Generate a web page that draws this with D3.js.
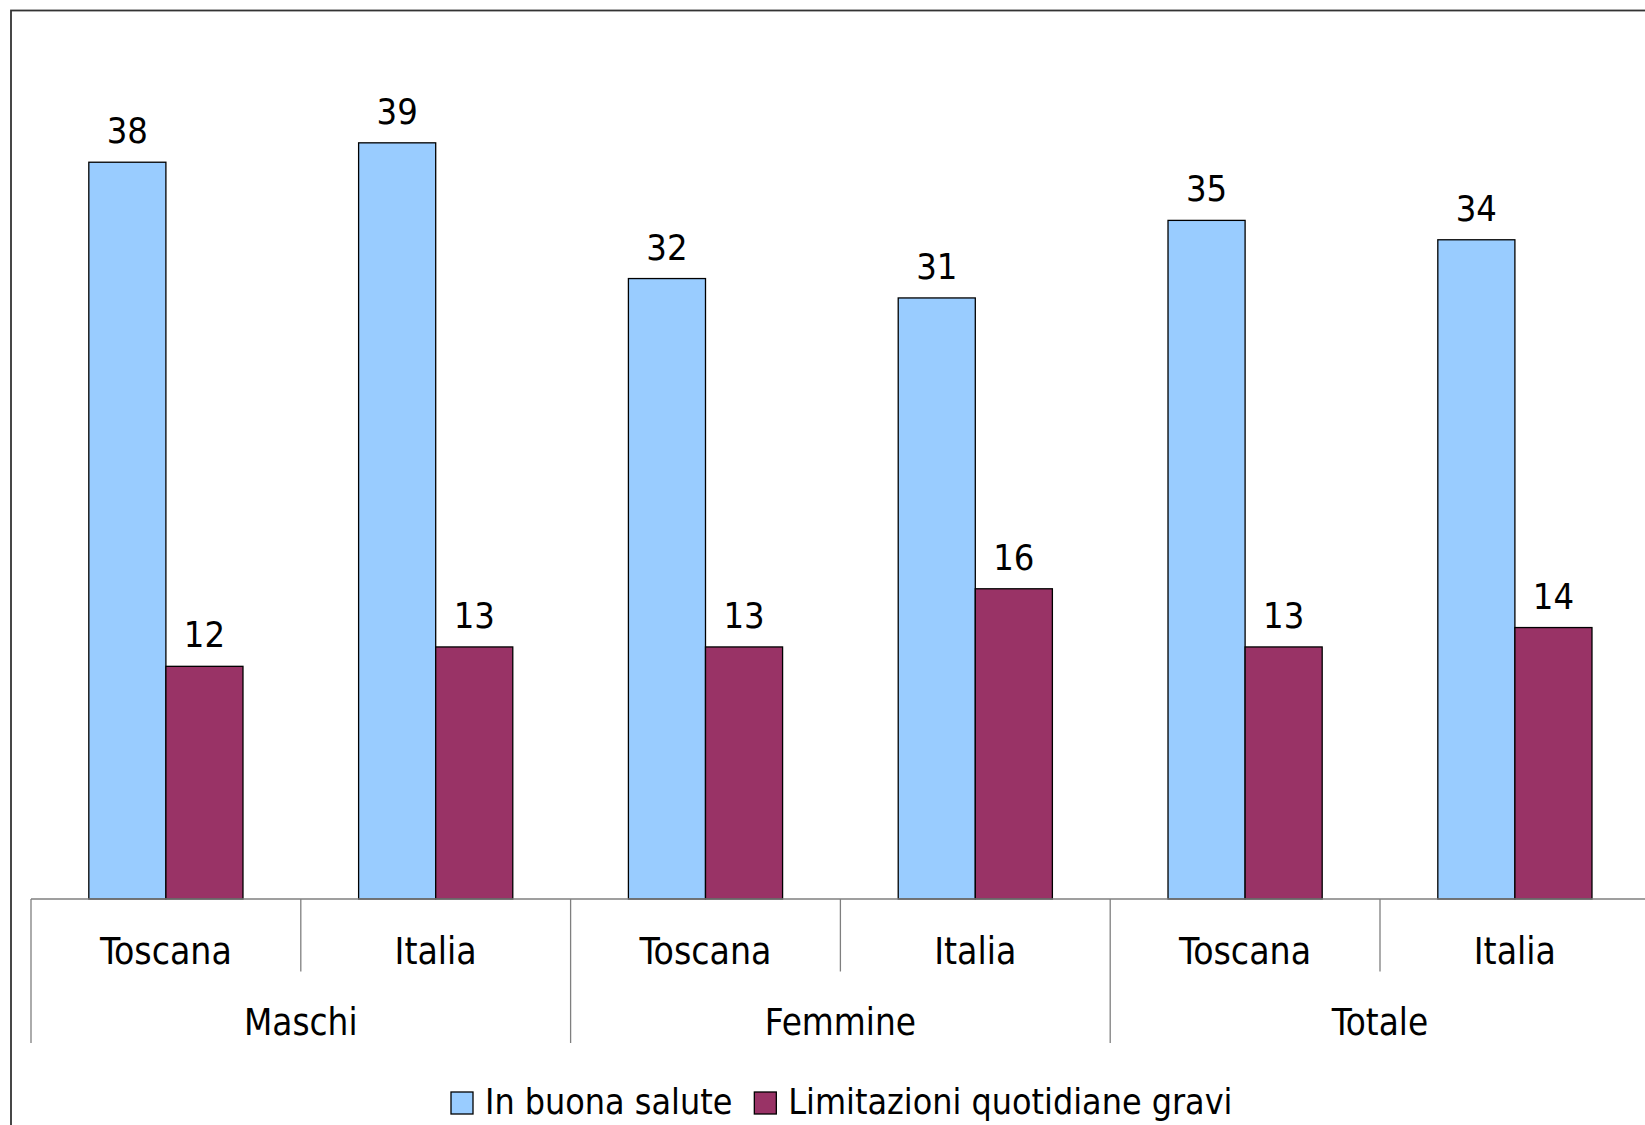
<!DOCTYPE html>
<html>
<head>
<meta charset="utf-8">
<script src="https://cdn.jsdelivr.net/npm/d3@7"></script>
<style>
  html, body { margin: 0; padding: 0; background: #ffffff; }
  svg { display: block; }
  text { font-family: "DejaVu Sans Condensed", "DejaVu Sans", sans-serif; fill: #000; }
</style>
</head>
<body>
<svg id="chart" width="1645" height="1125"></svg>
<script>
// Categories: sex groups, each split by area
const groups = ["Maschi", "Femmine", "Totale"];
const areas = ["Toscana", "Italia"];
const seriesNames = ["In buona salute", "Limitazioni quotidiane gravi"];

// Percentages per (group, area), in group order then area order
const buonaSalute = [38, 39, 32, 31, 35, 34];
const limitazioniGravi = [12, 13, 13, 16, 13, 14];

const seriesColors = ["#99CCFF", "#993366"];

const rows = [];
groups.forEach((g, gi) => {
  areas.forEach((a, ai) => {
    const i = gi * areas.length + ai;
    rows.push({ key: g + "|" + a, group: g, area: a, values: [buonaSalute[i], limitazioniGravi[i]] });
  });
});

const svg = d3.select("#chart");

// Plot geometry
const left = 31, step = 269.8;
const right = left + step * rows.length;
const baseY = 899;

// Outer frame (extends past the visible area on the right and bottom)
svg.append("rect")
  .attr("x", 11).attr("y", 10.5)
  .attr("width", 1700).attr("height", 1200)
  .attr("fill", "none").attr("stroke", "#333333").attr("stroke-width", 1.8);

// Gap width 150%: each category holds 2 bars plus 1.5 bar widths of gap
const x0 = d3.scaleBand()
  .domain(rows.map(d => d.key))
  .range([left, right])
  .paddingInner(1.5 / 3.5)
  .paddingOuter(0.75 / 3.5);

const x1 = d3.scaleBand()
  .domain(d3.range(seriesNames.length))
  .range([0, x0.bandwidth()]);

const y = d3.scaleLinear().domain([0, 45]).range([baseY, 26.5]);

// Bars
const cat = svg.append("g").selectAll("g")
  .data(rows).join("g")
  .attr("transform", d => `translate(${x0(d.key)},0)`);

cat.selectAll("rect")
  .data(d => d.values.map((v, i) => ({ v, i })))
  .join("rect")
  .attr("x", d => x1(d.i))
  .attr("y", d => y(d.v))
  .attr("width", x1.bandwidth())
  .attr("height", d => y(0) - y(d.v))
  .attr("fill", d => seriesColors[d.i])
  .attr("stroke", "#000")
  .attr("stroke-width", 1.3);

// Value labels
cat.selectAll("text")
  .data(d => d.values.map((v, i) => ({ v, i })))
  .join("text")
  .attr("x", d => x1(d.i) + x1.bandwidth() / 2)
  .attr("y", d => y(d.v) - 19)
  .attr("text-anchor", "middle")
  .style("font-size", "36px")
  .text(d => d.v);

// Category axis: baseline, separators and two label levels
const axis = svg.append("g");
axis.append("line")
  .attr("x1", left).attr("x2", right)
  .attr("y1", baseY).attr("y2", baseY)
  .attr("stroke", "#7f7f7f").attr("stroke-width", 1.6);

const sepX = d3.range(rows.length + 1).map(i => left + i * step);
axis.selectAll("line.sep")
  .data(sepX).join("line")
  .attr("class", "sep")
  .attr("x1", d => d).attr("x2", d => d)
  .attr("y1", baseY)
  .attr("y2", (d, i) => (i % areas.length === 0 ? 1043 : 971.5))
  .attr("stroke", "#7f7f7f").attr("stroke-width", 1.3);

axis.selectAll("text.area")
  .data(rows).join("text")
  .attr("class", "area")
  .attr("x", d => x0(d.key) + x0.bandwidth() / 2)
  .attr("y", 964)
  .attr("text-anchor", "middle")
  .style("font-size", "37px")
  .text(d => d.area);

axis.selectAll("text.group")
  .data(groups).join("text")
  .attr("class", "group")
  .attr("x", (d, i) => left + (i + 0.5) * step * areas.length)
  .attr("y", 1035)
  .attr("text-anchor", "middle")
  .style("font-size", "36.5px")
  .text(d => d);

// Legend
const legend = svg.append("g");
let lx = 451;
seriesNames.forEach((name, i) => {
  legend.append("rect")
    .attr("x", lx).attr("y", 1092)
    .attr("width", 22).attr("height", 22)
    .attr("fill", seriesColors[i])
    .attr("stroke", "#000").attr("stroke-width", 1.3);
  const t = legend.append("text")
    .attr("x", lx + 34).attr("y", 1114)
    .style("font-size", "35.5px")
    .text(name);
  lx = lx + 34 + t.node().getComputedTextLength() + 22;
});
</script>
</body>
</html>
